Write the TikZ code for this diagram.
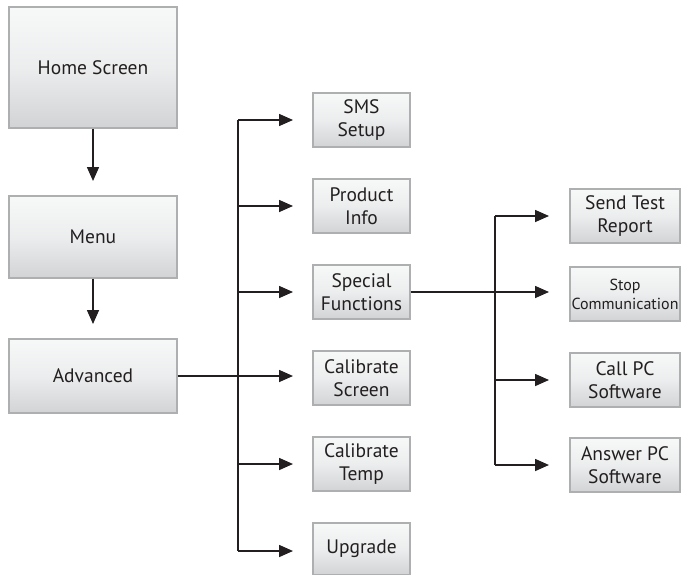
\documentclass[tikz,border=0pt]{standalone}
\usepackage{fontspec}
\setmainfont{PT Sans}
\usetikzlibrary{arrows.meta}
\definecolor{boxedge}{HTML}{AEAFB1}
\definecolor{boxtop}{HTML}{F7F8F8}
\definecolor{boxbot}{HTML}{D2D3D5}
\definecolor{ink}{HTML}{231F20}
\tikzset{
  mbox/.style={draw=boxedge, line width=1.3pt, top color=boxtop, bottom color=boxbot, middle color=boxtop!70!boxbot,
    align=center, font=\fontsize{19.5}{23}\selectfont, text=ink, inner sep=0pt},
  bigbox/.style={mbox, minimum width=168pt},
  smallbox/.style={mbox, minimum width=97pt, minimum height=54pt},
  thirdbox/.style={mbox, minimum width=110pt, minimum height=54pt},
  conn/.style={line width=1.6pt, ink},
  arr/.style={conn, -{Triangle[length=14pt,width=12pt]}}
}
\begin{document}
\begin{tikzpicture}[x=1pt,y=-1pt]
\useasboundingbox (0,0) rectangle (690,575);
% left column
\node[bigbox, minimum height=121pt] (home) at (93,67.5) {Home Screen};
\node[bigbox, minimum height=82pt] (menu) at (93,237) {Menu};
\node[bigbox, minimum height=74pt] (adv) at (93,376) {Advanced};
\draw[arr] (home.south) -- (93,181);
\draw[arr] (menu.south) -- (93,324);
% middle column
\node[smallbox] (sms) at (361.5,120) {SMS\\Setup};
\node[smallbox] (prod) at (361.5,206) {Product\\Info};
\node[smallbox] (spec) at (361.5,292) {Special\\Functions};
\node[smallbox] (cals) at (361.5,378) {Calibrate\\Screen};
\node[smallbox] (calt) at (361.5,464) {Calibrate\\Temp};
\node[smallbox, minimum height=52pt] (upg) at (361.5,549) {Upgrade};
\coordinate (bus1) at (238,120);
\coordinate (bus2) at (238,551);
\draw[conn] (bus1) -- (bus2);
\draw[arr] (bus1) -- (293,120);
\draw[arr] (238,206) -- (293,206);
\draw[arr] (238,292) -- (293,292);
\draw[arr] (adv.east) -- (293,376);
\draw[arr] (238,464) -- (293,464);
\draw[arr] (bus2) -- (293,551);
% right column
\node[thirdbox] (send) at (625,216) {Send Test\\Report};
\node[thirdbox, font=\fontsize{16}{19}\selectfont] (stop) at (625,294) {Stop\\Communication};
\node[thirdbox] (call) at (625,380) {Call PC\\Software};
\node[thirdbox] (ans) at (625,465) {Answer PC\\Software};
\coordinate (bus3) at (495,216);
\coordinate (bus4) at (495,465);
\draw[conn] (bus3) -- (bus4);
\draw[arr] (bus3) -- (549,216);
\draw[arr] (spec.east) -- (549,292);
\draw[arr] (495,380) -- (549,380);
\draw[arr] (bus4) -- (549,465);
\end{tikzpicture}
\end{document}
